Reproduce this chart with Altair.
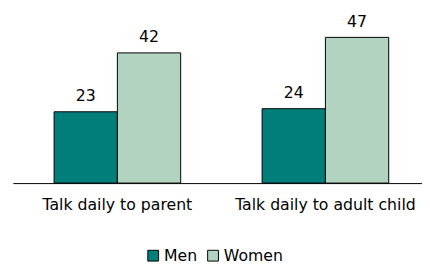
import altair as alt
import pandas as pd

categories = ["Talk daily to parent", "Talk daily to adult child"]
groups = ["Men", "Women"]
men_values = [23, 24]
women_values = [42, 47]

rows = []
for i, c in enumerate(categories):
    rows.append({"cat": c, "sex": "Men", "value": men_values[i]})
    rows.append({"cat": c, "sex": "Women", "value": women_values[i]})
df = pd.DataFrame(rows)

FONT = "DejaVu Sans"

x = alt.X("cat:N", sort=categories, title=None,
          scale=alt.Scale(paddingInner=0.3915, paddingOuter=0.179, align=0.553),
          axis=alt.Axis(labelAngle=0, ticks=False, domainColor="black", domainWidth=1,
                        labelFont=FONT, labelFontSize=16, labelColor="black",
                        labelPadding=14, labelBaseline="top", labelLimit=400))
xo = alt.XOffset("sex:N", sort=groups)
y = alt.Y("value:Q", scale=alt.Scale(domain=[0, 50]), axis=None)

color = alt.Color("sex:N", sort=groups, title=None,
                  scale=alt.Scale(domain=groups, range=["#007E7A", "#B2D3BF"]),
                  legend=alt.Legend(orient="none", legendX=135, legendY=224,
                                    direction="horizontal", symbolType="square",
                                    symbolSize=121, symbolStrokeColor="black",
                                    symbolStrokeWidth=1, labelFont=FONT,
                                    labelFontSize=16, labelColor="black",
                                    columnPadding=8, labelOffset=3))

bars = alt.Chart(df).mark_bar(stroke="black", strokeWidth=1).encode(
    x=x, xOffset=xo, y=y, color=color)

labels = alt.Chart(df).mark_text(baseline="bottom", dy=-8, font=FONT,
                                 fontSize=16, color="black").encode(
    x=alt.X("cat:N", sort=categories), xOffset=xo, y=y, text="value:Q")

chart = alt.layer(bars, labels).properties(
    width=417, height=158,
    autosize=alt.AutoSizeParams(type="none"),
    padding={"left": 5, "top": 18, "right": 0, "bottom": 80},
).configure_view(stroke=None).configure_axis(grid=False)

chart.save("out.html", embed_options={"renderer": "svg", "actions": False})
